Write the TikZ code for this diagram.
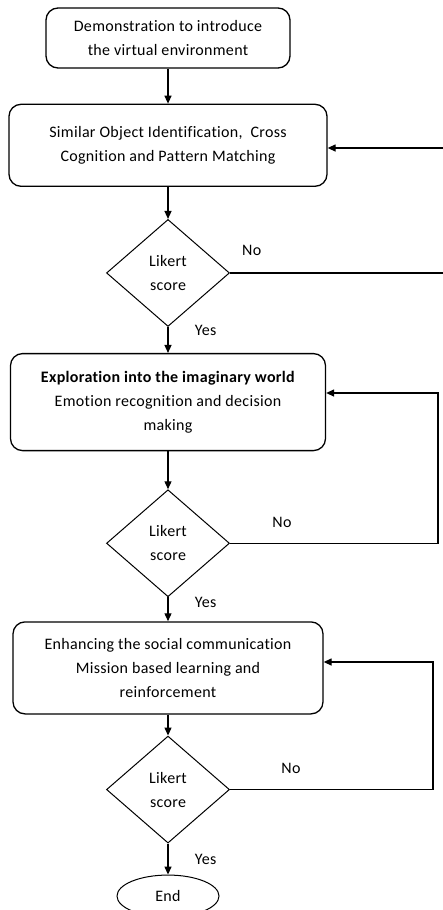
\documentclass[tikz,border=0pt]{standalone}
\usepackage{fontspec}
\setmainfont{Carlito}[Ligatures=NoCommon, LetterSpace=2]
\usetikzlibrary{arrows.meta, positioning, shapes.geometric}

\begin{document}
\begin{tikzpicture}[
        font=\fontsize{16}{24}\selectfont,
        >={Triangle[length=8pt,width=7pt]},
        line width=1.3pt,
        box/.style={draw, rounded corners=12pt, align=center, inner sep=3pt},
        decision/.style={draw, diamond, minimum width=123pt, minimum height=107pt, inner sep=0pt, align=center, line width=1pt},
        terminal/.style={draw, ellipse, minimum width=102pt, minimum height=42pt, line width=1pt},
        lbl/.style={font=\fontsize{16}{18}\selectfont}
    ]
        \useasboundingbox (0,0) rectangle (442pt,-910pt);

        % --- Introduction ---
        \node[box, minimum width=244pt, minimum height=60pt] (demo) at (168pt,-38pt) {Demonstration to introduce\\the virtual environment};
        \node[box, minimum width=318pt, minimum height=82pt, below=35pt of demo] (ident) {Similar Object Identification,~ Cross\\Cognition and Pattern Matching};
        \node[decision, below=32pt of ident] (lik1) {Likert\\score};

        \draw[->] (demo) -- (ident);
        \draw[->] (ident) -- (lik1);

        % --- Exploration ---
        \node[box, minimum width=315pt, minimum height=97pt, below=26pt of lik1] (explore) {\textbf{Exploration into the imaginary world}\\Emotion recognition and decision\\making};
        \node[decision, below=38pt of explore] (lik2) {Likert\\score};

        \draw[->] (lik1) -- node[lbl, pos=0.12, right=23pt]{Yes} (explore);
        \draw[->] (explore) -- (lik2);

        % --- Social communication ---
        \node[box, minimum width=310pt, minimum height=92pt, below=24pt of lik2] (enhance) {Enhancing the social communication\\Mission based learning and\\reinforcement};
        \node[decision, below=21pt of enhance] (lik3) {Likert\\score};
        \node[terminal, below=31pt of lik3] (stop) {End};

        \draw[->] (lik2) -- node[lbl, pos=0.2, right=23pt]{Yes} (enhance);
        \draw[->] (enhance) -- (lik3);
        \draw[->] (lik3) -- node[lbl, pos=0.5, right=23pt]{Yes} (stop);

        % --- Loops back ---
        \coordinate (r1) at (447pt,-148pt);
        \coordinate (r2) at (438pt,-393pt);
        \coordinate (r3) at (433pt,-662pt);

        \draw[->] (lik1.east) -- node[lbl, pos=0.1, above=13pt]{No} (lik1.east -| r1) -- (r1) -- (ident.east |- r1);
        \draw[->] (lik2.east) -- node[lbl, pos=0.25, above=12pt]{No} (lik2.east -| r2) -- (r2) -- (explore.east |- r2);
        \draw[->] (lik3.east) -- node[lbl, pos=0.3, above=12pt]{No} (lik3.east -| r3) -- (r3) -- (enhance.east |- r3);
    \end{tikzpicture}
\end{document}
